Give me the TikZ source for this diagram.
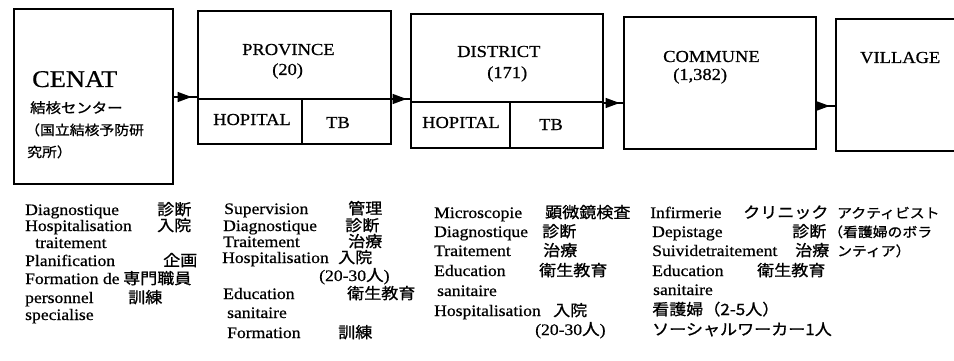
\documentclass[tikz,border=0pt]{standalone}
\usepackage{fontspec}
\setmainfont{Liberation Serif}[FakeStretch=1.1,FakeBold=0.6]
\newfontfamily\jp{Noto Sans CJK JP}[FakeStretch=1.1,FakeBold=1]
\usetikzlibrary{arrows.meta,decorations.markings}
\tikzset{
  box/.style={draw, line width=1.6pt, inner sep=0pt, anchor=north west},
  div/.style={line width=1.6pt},
  hl/.style={anchor=base west, inner sep=0pt, font=\fontsize{16.8}{18}\selectfont},
  bt/.style={anchor=base west, inner sep=0pt, font=\fontsize{16}{17}\selectfont},
  jt/.style={anchor=base west, inner sep=0pt, font=\jp\fontsize{15.5}{17}\selectfont},
  js/.style={anchor=base west, inner sep=0pt, font=\jp\fontsize{13.5}{15}\selectfont},
  conn/.style={line width=1.4pt, postaction={decorate},
    decoration={markings, mark=at position #1 with {\arrow{Triangle[length=14pt,width=10pt]}}}},
  conn/.default=17pt
}
\begin{document}
\begin{tikzpicture}[x=1pt,y=-1pt]
\useasboundingbox (0,0) rectangle (954,361);
\fill[white] (0,0) rectangle (954,361);
\begin{scope}
\clip (0,0) rectangle (954,361);
% boxes
\node[box, minimum width=159pt, minimum height=175pt] (cenat) at (13,8) {};
\node[box, minimum width=193pt, minimum height=133pt] (prov) at (197,10) {};
\node[box, minimum width=192pt, minimum height=134pt] (dist) at (410,13) {};
\node[box, minimum width=192pt, minimum height=132pt] (comm) at (623,16) {};
\node[box, minimum width=150pt, minimum height=132pt] (vill) at (835,18) {};
\end{scope}
% dividers
\coordinate (pd) at (0,99);
\coordinate (pv) at (302,0);
\coordinate (dd) at (0,102);
\coordinate (dv) at (510,0);
\draw[div] (prov.west |- pd) -- (prov.east |- pd);
\draw[div] (pv |- pd) -- (pv |- prov.south);
\draw[div] (dist.west |- dd) -- (dist.east |- dd);
\draw[div] (dv |- dd) -- (dv |- dist.south);
% connectors
\coordinate (a1) at (0,97);
\coordinate (a2) at (0,99);
\coordinate (a3) at (0,103);
\coordinate (a4) at (0,106);
\draw[conn=18pt] (cenat.east |- a1) -- (prov.west |- a1);
\draw[conn=15pt] (prov.east |- a2) -- (dist.west |- a2);
\draw[conn=16pt] (dist.east |- a3) -- (comm.west |- a3);
\draw[conn=13pt] (comm.east |- a4) -- (vill.west |- a4);
% header labels
\node[anchor=base west, inner sep=0pt, font=\fontsize{24}{26}\selectfont] (tcenat) at (32,87) {CENAT};
\node[anchor=base west, inner sep=0pt, font=\jp\fontsize{14}{15}\selectfont] (tc1) at (30,113) {結核センター};
\node[anchor=base west, inner sep=0pt, font=\jp\fontsize{13.5}{15}\selectfont] (tc2) at (25,135) {（国立結核予防研};
\node[anchor=base west, inner sep=0pt, font=\jp\fontsize{13.5}{15}\selectfont] (tc3) at (27,157) {究所）};
\node[hl] (tprov) at (242,55) {PROVINCE};
\node[hl] (tprov2) at (272,75) {(20)};
\node[hl] (tph) at (213,125) {HOPITAL};
\node[hl] (tpt) at (326,128) {TB};
\node[hl] (tdist) at (457,57) {DISTRICT};
\node[hl] (tdist2) at (487,78) {(171)};
\node[hl] (tdh) at (422,128) {HOPITAL};
\node[hl] (tdt) at (539,130) {TB};
\node[hl] (tcomm) at (663,62) {COMMUNE};
\node[hl] (tcomm2) at (673,80) {(1,382)};
\node[hl] (tvill) at (860,63) {VILLAGE};
% column 1
\node[bt] (c1a) at (25,215) {Diagnostique};       \node[jt] (j1a) at (157,215) {診断};
\node[bt] (c1b) at (25,231) {Hospitalisation};    \node[jt] (j1b) at (157,231) {入院};
\node[bt] (c1c) at (35,248) {traitement};
\node[bt] (c1d) at (25,266) {Planification};      \node[jt] (j1d) at (163,266) {企画};
\node[bt] (c1e) at (25,284) {Formation de};       \node[jt] (j1e) at (123,284) {専門職員};
\node[bt] (c1f) at (25,303) {personnel};          \node[jt] (j1f) at (128,303) {訓練};
\node[bt] (c1g) at (25,320) {specialise};
% column 2
\node[bt] (c2a) at (224,214) {Supervision};       \node[jt] (j2a) at (348,214) {管理};
\node[bt] (c2b) at (223,231) {Diagnostique};      \node[jt] (j2b) at (345,231) {診断};
\node[bt] (c2c) at (223,247) {Traitement};        \node[jt] (j2c) at (348,247) {治療};
\node[bt] (c2d) at (222,263) {Hospitalisation};   \node[jt] (j2d) at (338,263) {入院};
\node[bt] (c2e) at (319,281) {(20-30{\jp 人})};
\node[bt] (c2f) at (223,299) {Education};         \node[jt] (j2f) at (347,299) {衛生教育};
\node[bt] (c2g) at (227,318) {sanitaire};
\node[bt] (c2h) at (227,338) {Formation};         \node[jt] (j2h) at (338,338) {訓練};
% column 3
\node[bt] (c3a) at (434,218) {Microscopie};       \node[jt] (j3a) at (545,218) {顕微鏡検査};
\node[bt] (c3b) at (434,237) {Diagnostique};      \node[jt] (j3b) at (542,237) {診断};
\node[bt] (c3c) at (434,256) {Traitement};        \node[jt] (j3c) at (543,256) {治療};
\node[bt] (c3d) at (434,276) {Education};         \node[jt] (j3d) at (539,276) {衛生教育};
\node[bt] (c3e) at (437,296) {sanitaire};
\node[bt] (c3f) at (434,316) {Hospitalisation};   \node[jt] (j3f) at (553,316) {入院};
\node[bt] (c3g) at (535,335) {(20-30{\jp 人})};
% column 4
\node[bt] (c4a) at (650,218) {Infirmerie};        \node[jt] (j4a) at (743,218) {クリニック};
\node[bt] (c4b) at (652,237) {Depistage};         \node[jt] (j4b) at (792,237) {診断};
\node[bt] (c4c) at (652,256) {Suividetraitement}; \node[jt] (j4c) at (795,256) {治療};
\node[bt] (c4d) at (652,276) {Education};         \node[jt] (j4d) at (757,276) {衛生教育};
\node[bt] (c4e) at (653,295) {sanitaire};
\node[jt] (j4f) at (652,315) {看護婦（2-5人）};
\node[jt] (j4g) at (652,335) {ソーシャルワーカー1人};
% column 5
\node[js] (j5a) at (837,218) {アクティビスト};
\node[js] (j5b) at (828,237) {（看護婦のボラ};
\node[js] (j5c) at (837,256) {ンティア）};
\end{tikzpicture}
\end{document}
